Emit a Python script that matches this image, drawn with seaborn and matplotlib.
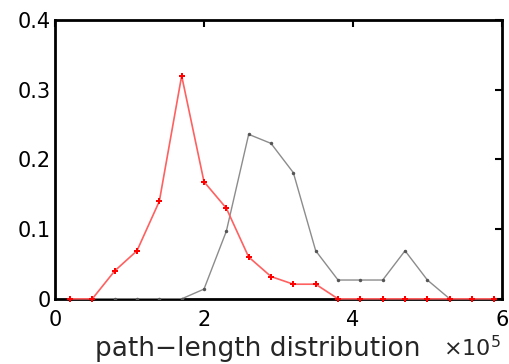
import numpy as np
import pandas as pd
import matplotlib
matplotlib.use("Agg")
import matplotlib.pyplot as plt
import seaborn as sns

# path length bins (units of 1e5)
bins = [0.2, 0.5, 0.8, 1.1, 1.4, 1.7, 2.0, 2.3, 2.6, 2.9, 3.2, 3.5,
        3.8, 4.1, 4.4, 4.7, 5.0, 5.3, 5.6, 5.9]
red_freq = [0.0, 0.0, 0.04, 0.069, 0.14, 0.32, 0.168, 0.13, 0.06, 0.032,
            0.021, 0.021, 0.0, 0.0, 0.0, 0.0, 0.0, 0.0, 0.0, 0.0]
gray_freq = [0.0, 0.0, 0.0, 0.0, 0.0, 0.0, 0.014, 0.097, 0.236, 0.223,
             0.181, 0.069, 0.027, 0.027, 0.027, 0.069, 0.027, 0.0, 0.0, 0.0]
xticks = [0, 2, 4, 6]
xticklabels = ["0", "2", "4", "6"]
yticks = [0, 0.1, 0.2, 0.3, 0.4]
yticklabels = ["0", "0.1", "0.2", "0.3", "0.4"]

sns.set_style("white")
plt.rcParams["font.family"] = ["DejaVu Sans"]

fig = plt.figure(figsize=(5.10, 3.64), dpi=100)
ax = fig.add_axes([0.108, 0.179, 0.876, 0.766])

df_gray = pd.DataFrame({"x": bins, "y": gray_freq})
df_red = pd.DataFrame({"x": bins, "y": red_freq})

sns.lineplot(data=df_gray, x="x", y="y", ax=ax, color="#8c8c8c", lw=1.0,
             marker="o", markersize=2.5, markeredgewidth=0,
             markerfacecolor="#555555", zorder=4)
sns.lineplot(data=df_red, x="x", y="y", ax=ax, color="#ff6060", lw=1.2,
             marker="P", markersize=5, markeredgewidth=0,
             markerfacecolor="#ff0000", zorder=5, clip_on=False)

ax.set_xlim(0, 6)
ax.set_ylim(0, 0.4)
ax.set_xticks(xticks)
ax.set_xticklabels(xticklabels)
ax.set_yticks(yticks)
ax.set_yticklabels(yticklabels)
ax.tick_params(direction="in", length=5, width=1.5, labelsize=15,
               top=True, right=True, colors="black")
ax.tick_params(axis="x", pad=8)
ax.tick_params(axis="y", pad=3)
for s in ax.spines.values():
    s.set_visible(True)
    s.set_color("black")
    s.set_linewidth(2)
    s.set_zorder(3)

ax.set_xlabel("path\u2212length distribution", fontsize=19)
ax.xaxis.label.set_ha("left")
ax.xaxis.label.set_va("baseline")
ax.xaxis.set_label_coords(0.0895, -0.204)
ax.set_ylabel("")
ax.text(0.868, -0.204, r"$\times10^5$", transform=ax.transAxes,
        fontsize=16, ha="left", va="baseline")

fig.savefig("out.png", dpi=100)
